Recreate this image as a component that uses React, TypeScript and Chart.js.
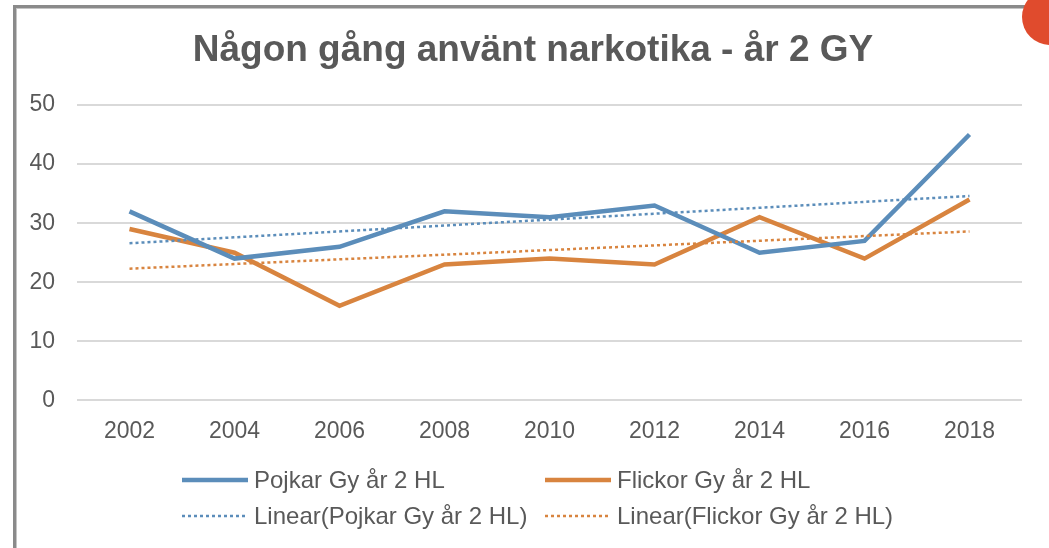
import { useEffect, useRef } from 'react';
import { Chart, registerables } from 'chart.js';

Chart.register(...registerables);

const titleText = 'Någon gång använt narkotika - år 2 GY';
const years = ['2002', '2004', '2006', '2008', '2010', '2012', '2014', '2016', '2018'];
const pojkar = [32, 24, 26, 32, 31, 33, 25, 27, 45];
const flickor = [29, 25, 16, 23, 24, 23, 31, 24, 34];
const pojkarTrend = [26.6, null, null, null, null, null, null, null, 34.6];
const flickorTrend = [22.3, null, null, null, null, null, null, null, 28.6];
const labels = ['Pojkar Gy år 2 HL', 'Flickor Gy år 2 HL', 'Linear(Pojkar Gy år 2 HL)', 'Linear(Flickor Gy år 2 HL)'];

const BLUE = '#5B8DBA';
const ORANGE = '#D8843F';
const TEXT = '#595959';
const FONT = '"Liberation Sans", Arial, sans-serif';

export default function App() {
  const ref = useRef<HTMLCanvasElement>(null);

  useEffect(() => {
    const decor = {
      id: 'decor',
      beforeDraw(chart: any) {
        const ctx = chart.ctx;
        ctx.save();
        ctx.fillStyle = '#ffffff';
        ctx.fillRect(0, 0, chart.width, chart.height);
        ctx.restore();
      },
      afterDraw(chart: any) {
        const ctx = chart.ctx;
        ctx.save();
        // frame
        ctx.fillStyle = '#8a8a8a';
        ctx.fillRect(13, 5, 3, chart.height);
        ctx.fillRect(13, 5, chart.width, 3);
        ctx.fillStyle = '#c4c4c4';
        ctx.fillRect(16, 8, 1, chart.height);
        ctx.fillRect(16, 8, chart.width, 1);
        // title
        ctx.fillStyle = TEXT;
        ctx.font = `bold 37px ${FONT}`;
        ctx.textAlign = 'center';
        ctx.textBaseline = 'alphabetic';
        ctx.fillText(titleText, 533, 61);
        // legend
        const cols = [182, 545];
        const rows = [480, 516];
        chart.data.datasets.forEach((ds: any, i: number) => {
          const x = cols[i % 2];
          const y = rows[Math.floor(i / 2)];
          ctx.beginPath();
          ctx.strokeStyle = ds.borderColor;
          ctx.lineWidth = ds.borderWidth;
          ctx.setLineDash(ds.borderDash || []);
          ctx.lineCap = 'butt';
          ctx.moveTo(x, y);
          ctx.lineTo(x + 66, y);
          ctx.stroke();
          ctx.setLineDash([]);
          ctx.fillStyle = TEXT;
          ctx.font = `24px ${FONT}`;
          ctx.textBaseline = 'middle';
          ctx.textAlign = 'left';
          ctx.fillText(ds.label, x + 72, y + 1);
        });
        // corner circle
        ctx.beginPath();
        ctx.fillStyle = '#E04B2D';
        ctx.arc(1050, 17, 28, 0, Math.PI * 2);
        ctx.fill();
        ctx.restore();
      },
    };

    const chart = new Chart(ref.current as HTMLCanvasElement, {
      type: 'line',
      data: {
        labels: years,
        datasets: [
          { label: labels[0], data: pojkar, borderColor: BLUE, backgroundColor: BLUE, borderWidth: 4.5, pointRadius: 0, order: 3, tension: 0 },
          { label: labels[1], data: flickor, borderColor: ORANGE, backgroundColor: ORANGE, borderWidth: 4.5, pointRadius: 0, order: 4, tension: 0 },
          { label: labels[2], data: pojkarTrend, borderColor: BLUE, backgroundColor: BLUE, borderWidth: 2.5, borderDash: [3, 3], pointRadius: 0, spanGaps: true, order: 1 },
          { label: labels[3], data: flickorTrend, borderColor: ORANGE, backgroundColor: ORANGE, borderWidth: 2.5, borderDash: [3, 3], pointRadius: 0, spanGaps: true, order: 2 },
        ],
      },
      options: {
        responsive: false,
        animation: false,
        layout: { padding: { left: 0, right: 27, top: 105, bottom: 86 } },
        plugins: {
          legend: { display: false },
          tooltip: { enabled: false },
          title: { display: false },
        },
        scales: {
          x: {
            offset: true,
            grid: { display: false, drawTicks: false },
            border: { display: false },
            ticks: { color: TEXT, font: { size: 23, family: FONT }, padding: 17, maxRotation: 0 },
          },
          y: {
            min: 0,
            max: 50,
            grid: { color: '#D9D9D9', lineWidth: 2, drawTicks: false },
            border: { display: false },
            ticks: { stepSize: 10, color: TEXT, font: { size: 23, family: FONT }, padding: 22 },
            afterFit(scale: any) { scale.width = 77; },
          },
        },
      },
      plugins: [decor],
    });
    return () => chart.destroy();
  }, []);

  return (
    <div style={{ position: 'fixed', left: 0, top: 0, width: 1049, height: 548, background: '#fff' }}>
      <canvas ref={ref} width={1049} height={548} style={{ display: 'block', width: 1049, height: 548 }} />
    </div>
  );
}
